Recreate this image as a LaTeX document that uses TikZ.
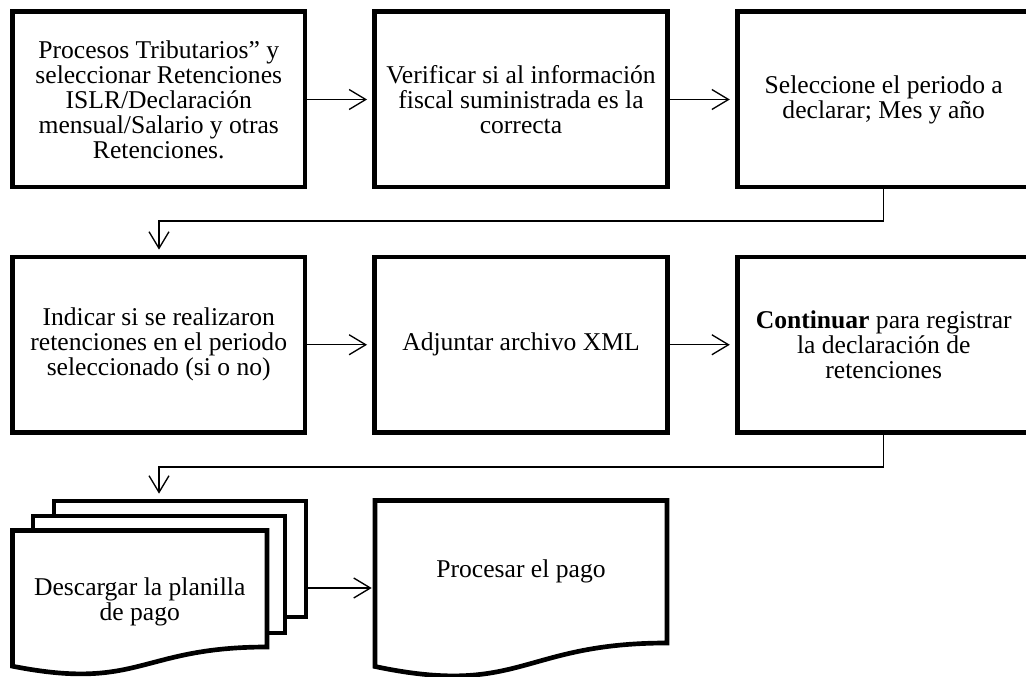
\documentclass[tikz,border=0pt]{standalone}
\usepackage{fontspec}
\setmainfont{Liberation Serif}
\usetikzlibrary{arrows.meta,calc}
\begin{document}
\begin{tikzpicture}[x=0.75pt,y=-0.75pt,
  box/.style={draw, line width=3.5pt, minimum width=219.4pt, minimum height=131.5pt,
    align=center, inner sep=0pt, fill=white, font=\fontsize{19.2}{18.75}\selectfont},
  txt/.style={align=center, inner sep=0pt, font=\fontsize{19.2}{18.75}\selectfont},
  sheet/.style={draw, line width=3.5pt, fill=white, line join=miter},
  conn/.style={line width=1pt, -{Straight Barb[length=12.5pt,width=15pt,line width=1pt]}, shorten >=4pt}]
\useasboundingbox (0,0) rectangle (1026,677);
\clip (0,0) rectangle (1026,677);
% row 1
\node[box] (b1) at (158.75,99.5) {Procesos Tributarios” y\\seleccionar Retenciones\\ISLR/Declaración\\mensual/Salario y otras\\Retenciones.};
\node[box] (b2) at (521,99.5) {Verificar si al información\\fiscal suministrada es la\\correcta};
\node[box] (b3) at (883.75,99.5) {Seleccione el periodo a\\declarar; Mes y año};
% row 2
\node[box] (b4) at (158.75,344.75) {Indicar si se realizaron\\retenciones en el periodo\\seleccionado (si o no)};
\node[box] (b5) at (521,344.75) {Adjuntar archivo XML};
\node[box] (b6) at (883.75,344.75) {\textbf{Continuar} para registrar\\la declaración de\\retenciones};
% row 3: multi-document
\node[sheet, minimum width=189pt, minimum height=87pt, inner sep=0pt] (s3) at (180,559) {};
\node[sheet, minimum width=189pt, minimum height=87.75pt, inner sep=0pt] (s2) at (159,574.5) {};
\draw[sheet] (12.5,530.5) -- (267,530.5) -- (267,647)
  .. controls (139.75,647) and (139.75,691.3) .. (12.5,666.2) -- cycle;
\node[txt] (d1) at (139.75,602) {Descargar la planilla\\de pago};
% single document
\draw[sheet] (375,500.5) -- (667,500.5) -- (667,643)
  .. controls (521,643) and (521,697.2) .. (375,666.5) -- cycle;
\node[txt] (d2) at (521,571) {Procesar el pago};
\coordinate (p1) at (377,588);
% connectors
\draw[conn] (b1.east) -- (b2.west);
\draw[conn] (b2.east) -- (b3.west);
\coordinate (k1) at (883.75,221);
\coordinate (t1) at (159,255);
\draw[conn] (b3.south) -- (k1) -| (t1);
\draw[conn] (b4.east) -- (b5.west);
\draw[conn] (b5.east) -- (b6.west);
\coordinate (k2) at (883.75,467);
\coordinate (t2) at (159,499);
\draw[conn] (b6.south) -- (k2) -| (t2);
\draw[conn] ($(s3.east)+(0,29)$) -- (p1);
\end{tikzpicture}
\end{document}
